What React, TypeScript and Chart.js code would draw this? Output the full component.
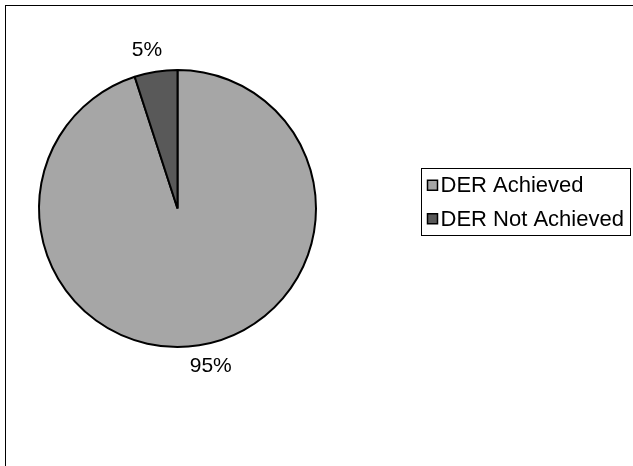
import { useEffect, useRef } from "react";
import { Chart, registerables } from "chart.js";

Chart.register(...registerables);

const categories = ["DER Achieved", "DER Not Achieved"];
const values = [95, 5];
const percentLabels = ["95%", "5%"];
const sliceColors = ["#A6A6A6", "#595959"];

const FONT = '"Liberation Sans", Arial, Helvetica, sans-serif';
const LABEL_SIZE = 21;
const LEGEND_SIZE = 22;

export default function App() {
  const ref = useRef<HTMLCanvasElement>(null);

  useEffect(() => {
    if (!ref.current) return;

    const framePlugin = {
      id: "frame",
      beforeDraw(chart: any) {
        const ctx = chart.ctx;
        ctx.save();
        ctx.fillStyle = "#ffffff";
        ctx.fillRect(0, 0, chart.width, chart.height);
        ctx.strokeStyle = "#000000";
        ctx.lineWidth = 1;
        ctx.strokeRect(5.5, 5.5, chart.width + 20, chart.height + 20);
        ctx.restore();
      },
    };

    const outLabelsPlugin = {
      id: "outLabels",
      afterDatasetsDraw(chart: any) {
        const ctx = chart.ctx;
        const meta = chart.getDatasetMeta(0);
        ctx.save();
        ctx.font = `${LABEL_SIZE}px ${FONT}`;
        ctx.fillStyle = "#000000";
        ctx.textAlign = "center";
        ctx.textBaseline = "middle";
        meta.data.forEach((arc: any, i: number) => {
          const { x, y, startAngle, endAngle, outerRadius } = arc.getProps(
            ["x", "y", "startAngle", "endAngle", "outerRadius"],
            true
          );
          const mid = (startAngle + endAngle) / 2;
          const ux = Math.cos(mid);
          const uy = Math.sin(mid);
          const text = percentLabels[i];
          const w = ctx.measureText(text).width;
          const h = LABEL_SIZE;
          const d = outerRadius + 11;
          const lx = x + ux * (d + w * 1.5);
          const ly = y + uy * (d + h / 2);
          ctx.fillText(text, lx, ly);
        });
        ctx.restore();
      },
    };

    const boxLegendPlugin = {
      id: "boxLegend",
      afterDraw(chart: any) {
        const ctx = chart.ctx;
        const ds = chart.data.datasets[0];
        const labels = chart.data.labels as string[];
        const left = 421.5;
        const top = 168.5;
        const rowH = 33.5;
        const padX = 6;
        const sq = 10;
        ctx.save();
        ctx.font = `${LEGEND_SIZE}px ${FONT}`;
        const maxW = Math.max(...labels.map((l) => ctx.measureText(l).width));
        const boxW = Math.round(padX + sq + 3 + maxW + 7);
        const boxH = Math.round(rowH * labels.length);
        ctx.fillStyle = "#ffffff";
        ctx.fillRect(left, top, boxW, boxH);
        ctx.strokeStyle = "#000000";
        ctx.lineWidth = 1;
        ctx.strokeRect(left, top, boxW, boxH);
        ctx.textAlign = "left";
        ctx.textBaseline = "middle";
        labels.forEach((label, i) => {
          const cy = top + rowH * i + rowH / 2;
          ctx.fillStyle = ds.backgroundColor[i];
          ctx.fillRect(left + padX, cy - sq / 2, sq, sq);
          ctx.strokeStyle = "#000000";
          ctx.lineWidth = 1.5;
          ctx.strokeRect(left + padX, cy - sq / 2, sq, sq);
          ctx.fillStyle = "#000000";
          ctx.fillText(label, left + padX + sq + 3, cy + 1);
        });
        ctx.restore();
      },
    };

    const chart = new Chart(ref.current, {
      type: "pie",
      data: {
        labels: categories,
        datasets: [
          {
            data: values,
            backgroundColor: sliceColors,
            borderColor: "#000000",
            borderWidth: 2,
            hoverOffset: 0,
          },
        ],
      },
      options: {
        responsive: false,
        animation: false,
        events: [],
        layout: { padding: { left: 38, top: 69, right: 316, bottom: 118 } },
        plugins: {
          legend: { display: false },
          tooltip: { enabled: false },
        },
      },
      plugins: [framePlugin, outLabelsPlugin, boxLegendPlugin],
    });

    return () => chart.destroy();
  }, []);

  return (
    <div style={{ position: "absolute", left: 0, top: 0, width: 633, height: 466 }}>
      <canvas ref={ref} width={633} height={466} style={{ display: "block" }} />
    </div>
  );
}
